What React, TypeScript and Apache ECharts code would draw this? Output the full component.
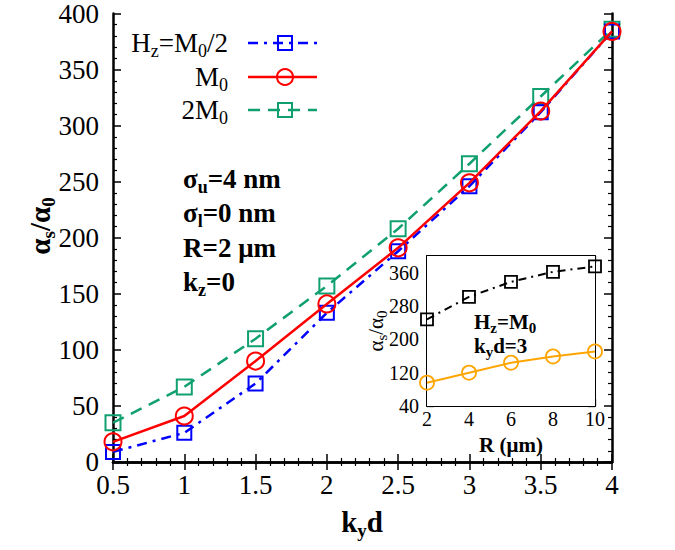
import React, { useEffect, useRef } from "react";
import * as echarts from "echarts";

const kyd = [0.5, 1, 1.5, 2, 2.5, 3, 3.5, 4];
const halfM0 = [9, 26, 70, 133, 188, 246, 312, 384];
const m0 = [18, 41, 90, 141, 191, 249, 313, 384];
const twoM0 = [35, 67, 110, 157, 208, 266, 326, 386];

const rValues = [2, 4, 6, 8, 10];
const insetSquares = [248, 302, 338, 362, 375];
const insetCircles = [96, 120, 144, 159, 171];

const FONT = "'Liberation Serif', 'Times New Roman', serif";
const BLUE = "#0000ff";
const RED = "#ff0000";
const GREEN = "#10a070";
const ORANGE = "#ffa500";

const pairs = (xs: number[], ys: number[]) => xs.map((x, i) => [x, ys[i]]);

function subRich(size: number, subSize: number, drop: number, weight: string) {
  const lh = size + 6;
  return {
    n: { fontSize: size, fontFamily: FONT, fontWeight: weight, lineHeight: lh, verticalAlign: "middle", color: "#000" },
    s: { fontSize: subSize, fontFamily: FONT, fontWeight: weight, lineHeight: Math.max(2, (lh / 2 - drop) * 2), verticalAlign: "bottom", color: "#000" },
  };
}

export default function App() {
  const ref = useRef<HTMLDivElement>(null);
  useEffect(() => {
    if (!ref.current) return;
    const chart = echarts.init(ref.current, undefined, { renderer: "svg" });
    const axisLine = { show: true, lineStyle: { color: "#000", width: 2.5 } };
    const mainTick = { show: true, inside: true, length: 8, lineStyle: { color: "#000", width: 1.5 } };
    const mainMinor = { show: true, splitNumber: 5, length: 4, lineStyle: { color: "#000", width: 1.2 } };
    const mainLabel = { fontFamily: FONT, fontSize: 27, color: "#000" };
    const insetTick = { show: true, inside: true, length: 7, lineStyle: { color: "#000", width: 1.3 } };
    const insetLabel = { fontFamily: FONT, fontSize: 20, color: "#000" };

    const legendRich = subRich(27, 18, 8, "normal");
    const annRich = subRich(27, 18, 8, "bold");
    const titleRich = subRich(29, 19, 9, "bold");
    const insetTitleRich = subRich(21, 15, 6, "normal");
    const insetAnnRich = subRich(21, 15, 7, "bold");

    const txt = (x: number, y: number, text: string, rich: any, align = "left", rotation = 0) => ({
      type: "text",
      x,
      y,
      rotation,
      z: 100,
      style: { text, rich, align, verticalAlign: "middle", fill: "#000" },
    });

    const legendRow = (y: number, label: string, color: string, dash: any, symbol: "rect" | "circle") => [
      txt(228, y, label, legendRich, "right"),
      {
        type: "line",
        z: 100,
        shape: { x1: 248, y1: y, x2: 317, y2: y },
        style: { stroke: color, lineWidth: 2.5, lineDash: dash },
      },
      symbol === "rect"
        ? { type: "rect", z: 101, shape: { x: 278, y: y - 7, width: 14, height: 14 }, style: { fill: "none", stroke: color, lineWidth: 2 } }
        : { type: "circle", z: 101, shape: { cx: 285, cy: y, r: 8 }, style: { fill: "none", stroke: color, lineWidth: 2 } },
    ];

    const option: any = {
      animation: false,
      backgroundColor: "#fff",
      textStyle: { fontFamily: FONT },
      grid: [
        { left: 113, top: 12, width: 499, height: 450 },
        { left: 427, top: 256, width: 168, height: 150, show: true, backgroundColor: "#fff", borderWidth: 0, z: 5 },
      ],
      xAxis: [
        {
          type: "value", gridIndex: 0, min: 0.5, max: 4, interval: 0.5, position: "bottom",
          axisLine, axisTick: mainTick, minorTick: mainMinor, splitLine: { show: false },
          axisLabel: { ...mainLabel, margin: 9 },
        },
        {
          type: "value", gridIndex: 0, min: 0.5, max: 4, interval: 0.5, position: "top",
          axisLine, axisTick: mainTick, minorTick: mainMinor, splitLine: { show: false },
          axisLabel: { show: false },
        },
        {
          type: "value", gridIndex: 1, min: 2, max: 10, interval: 2, position: "bottom",
          axisLine: { show: true, lineStyle: { color: "#000", width: 2 } }, axisTick: insetTick, splitLine: { show: false },
          axisLabel: { ...insetLabel, margin: 3 },
        },
        {
          type: "value", gridIndex: 1, min: 2, max: 10, interval: 2, position: "top",
          axisLine: { show: true, lineStyle: { color: "#000", width: 2 } }, axisTick: insetTick, splitLine: { show: false },
          axisLabel: { show: false },
        },
      ],
      yAxis: [
        {
          type: "value", gridIndex: 0, min: 0, max: 400, interval: 50, position: "left",
          axisLine, axisTick: mainTick, minorTick: mainMinor, splitLine: { show: false },
          axisLabel: { ...mainLabel, margin: 14 },
        },
        {
          type: "value", gridIndex: 0, min: 0, max: 400, interval: 50, position: "right",
          axisLine, axisTick: mainTick, minorTick: mainMinor, splitLine: { show: false },
          axisLabel: { show: false },
        },
        {
          type: "value", gridIndex: 1, min: 40, max: 400, interval: 40, position: "left",
          axisLine: { show: true, lineStyle: { color: "#000", width: 2 } }, axisTick: insetTick, splitLine: { show: false },
          axisLabel: {
            ...insetLabel, margin: 8, showMaxLabel: false,
            formatter: (v: number) => ((v - 40) % 80 === 0 && v < 400 ? String(v) : ""),
          },
        },
        {
          type: "value", gridIndex: 1, min: 40, max: 400, interval: 40, position: "right",
          axisLine: { show: true, lineStyle: { color: "#000", width: 2 } }, axisTick: insetTick, splitLine: { show: false },
          axisLabel: { show: false },
        },
      ],
      series: [
        {
          name: "Hz=M0/2", type: "line", xAxisIndex: 0, yAxisIndex: 0, data: pairs(kyd, halfM0),
          symbol: "rect", symbolSize: 14, z: 3,
          lineStyle: { color: BLUE, width: 2.5, type: [10, 6, 3, 6] },
          itemStyle: { color: "rgba(0,0,0,0)", borderColor: BLUE, borderWidth: 2 },
        },
        {
          name: "M0", type: "line", xAxisIndex: 0, yAxisIndex: 0, data: pairs(kyd, m0),
          symbol: "circle", symbolSize: 17, z: 4,
          lineStyle: { color: RED, width: 2.5, type: "solid" },
          itemStyle: { color: "rgba(0,0,0,0)", borderColor: RED, borderWidth: 2 },
        },
        {
          name: "2M0", type: "line", xAxisIndex: 0, yAxisIndex: 0, data: pairs(kyd, twoM0),
          symbol: "rect", symbolSize: 15, z: 2,
          lineStyle: { color: GREEN, width: 2.5, type: [12, 8] },
          itemStyle: { color: "rgba(0,0,0,0)", borderColor: GREEN, borderWidth: 2 },
        },
        {
          name: "inset squares", type: "line", xAxisIndex: 2, yAxisIndex: 2, data: pairs(rValues, insetSquares),
          symbol: "rect", symbolSize: 12, z: 10,
          lineStyle: { color: "#000", width: 2, type: [8, 5, 2, 5] },
          itemStyle: { color: "rgba(0,0,0,0)", borderColor: "#000", borderWidth: 1.8 },
        },
        {
          name: "inset circles", type: "line", xAxisIndex: 2, yAxisIndex: 2, data: pairs(rValues, insetCircles),
          symbol: "circle", symbolSize: 14, z: 10,
          lineStyle: { color: ORANGE, width: 2, type: "solid" },
          itemStyle: { color: "rgba(0,0,0,0)", borderColor: ORANGE, borderWidth: 1.8 },
        },
      ],
      graphic: [
        ...legendRow(43, "{n|H}{s|z}{n|=M}{s|0}{n|/2}", BLUE, [10, 6, 3, 6], "rect"),
        ...legendRow(77, "{n|M}{s|0}", RED, null, "circle"),
        ...legendRow(110, "{n|2M}{s|0}", GREEN, [12, 8], "rect"),
        txt(183, 179, "{n|σ}{s|u}{n|=4 nm}", annRich),
        txt(183, 213, "{n|σ}{s|l}{n|=0 nm}", annRich),
        txt(183, 248, "{n|R=2 μm}", annRich),
        txt(183, 282, "{n|k}{s|z}{n|=0}", annRich),
        txt(40, 226, "{n|α}{s|s}{n|/α}{s|0}", titleRich, "center", Math.PI / 2),
        txt(362, 522, "{n|k}{s|y}{n|d}", titleRich, "center"),
        txt(376, 331, "{n|α}{s|s}{n|/α}{s|0}", insetTitleRich, "center", Math.PI / 2),
        txt(511, 445, "{n|R (μm)}", insetAnnRich, "center"),
        txt(474, 322, "{n|H}{s|z}{n|=M}{s|0}", insetAnnRich),
        txt(474, 346, "{n|k}{s|y}{n|d=3}", insetAnnRich),
      ],
    };
    chart.setOption(option);
    return () => chart.dispose();
  }, []);
  return <div ref={ref} style={{ position: "fixed", left: 0, top: 0, width: 675, height: 550 }} />;
}
